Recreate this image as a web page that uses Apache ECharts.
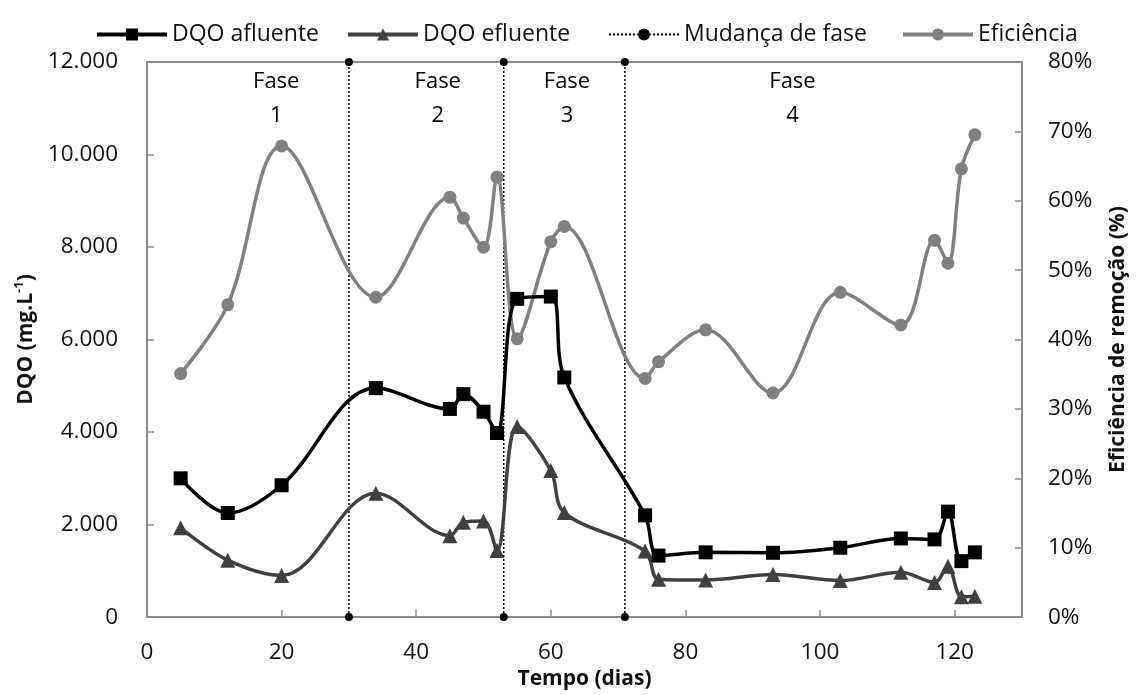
<!DOCTYPE html>
<html>
<head>
<meta charset="utf-8">
<script src="https://cdn.jsdelivr.net/npm/echarts@6/dist/echarts.min.js"></script>
<style>
html,body{margin:0;padding:0;background:#fff;overflow:hidden;}
#chart{width:1137px;height:695px;}
</style>
</head>
<body>
<div id="chart"></div>
<script>
// Data
const days = [5, 12, 20, 34, 45, 47, 50, 52, 55, 60, 62, 74, 76, 83, 93, 103, 112, 117, 119, 121, 123];
const dqoAfluente = [3000, 2250, 2850, 4950, 4500, 4820, 4440, 3980, 6880, 6930, 5180, 2200, 1330, 1400, 1390, 1500, 1700, 1680, 2280, 1210, 1400];
const dqoEfluente = [1930, 1230, 900, 2680, 1760, 2050, 2080, 1440, 4120, 3170, 2260, 1430, 820, 800, 920, 790, 970, 750, 1100, 440, 450];
const eficiencia = [35.1, 45.0, 67.9, 46.1, 60.5, 57.5, 53.3, 63.4, 40.1, 54.1, 56.3, 34.4, 36.8, 41.4, 32.3, 46.8, 42.1, 54.3, 51.0, 64.6, 69.5];
const phaseChangeDays = [30, 53, 71];
const phaseNames = ['1', '2', '3', '4'];
const phaseLabelDays = [19.2, 43.2, 62.4, 95.9];
const phaseLabelLevel = 11210;
const dqoRange = [0, 12000];
const legendNames = ['DQO afluente', 'DQO efluente', 'Mudança de fase', 'Eficiência'];

const FONT = 'Open Sans';
const TXT = '#111';
const chart = echarts.init(document.getElementById('chart'));

function pair(xs, ys) { return xs.map((x, i) => [x, ys[i]]); }
function fmtThousands(v) {
  return String(v).replace(/\B(?=(\d{3})+(?!\d))/g, '.');
}

const phaseSeries = phaseChangeDays.map(d => ({
  name: 'Mudança de fase',
  type: 'line',
  yAxisIndex: 0,
  data: dqoRange.map(v => [d, v]),
  symbol: 'circle',
  symbolSize: 8,
  itemStyle: { color: '#000' },
  lineStyle: { color: '#000', width: 1.5, type: [2, 2] },
  silent: true,
  z: 1
}));

const legendLefts = [90, 341, 603, 896];
const legends = legendNames.map((n, i) => ({
  top: 18,
  left: legendLefts[i],
  itemWidth: 70,
  itemHeight: 15,
  itemGap: 0,
  selectedMode: false,
  textStyle: { fontFamily: FONT, fontSize: 23, color: TXT },
  data: [i === 2 ? { name: n } : { name: n, lineStyle: { width: 4 } }]
}));

const option = {
  animation: false,
  backgroundColor: '#fff',
  textStyle: { fontFamily: FONT },
  legend: legends,
  grid: {
    left: 147, right: 110, top: 62, bottom: 68,
    show: true, borderColor: '#8a8a8a', borderWidth: 2, containLabel: false
  },
  xAxis: {
    type: 'value',
    min: 0, max: 130, interval: 20,
    name: 'Tempo (dias)',
    nameLocation: 'middle',
    nameGap: 46,
    nameTextStyle: { fontFamily: FONT, fontSize: 21, fontWeight: 'bold', color: TXT },
    axisLine: { show: true, lineStyle: { color: '#8a8a8a', width: 2 } },
    axisTick: { show: true, inside: true, length: 7, lineStyle: { color: '#8a8a8a', width: 1.5 } },
    axisLabel: { fontFamily: FONT, fontSize: 22.5, color: TXT, margin: 24,
      formatter: v => (v > 120 ? '' : String(v)) },
    splitLine: { show: false }
  },
  yAxis: [
    {
      type: 'value',
      min: 0, max: 12000, interval: 2000,
      name: '{b|DQO (mg.L}{s|-1}{b|)}',
      nameLocation: 'middle',
      nameRotate: 90,
      nameGap: 103,
      nameTextStyle: {
        rich: {
          b: { fontFamily: FONT, fontSize: 21, fontWeight: 'bold', color: TXT, lineHeight: 28 },
          s: { fontFamily: FONT, fontSize: 13, fontWeight: 'bold', color: TXT, verticalAlign: 'top', lineHeight: 28 }
        }
      },
      axisLine: { show: true, lineStyle: { color: '#8a8a8a', width: 2 } },
      axisTick: { show: true, inside: true, length: 7, lineStyle: { color: '#8a8a8a', width: 1.5 } },
      axisLabel: { fontFamily: FONT, fontSize: 22.5, color: TXT, margin: 29, formatter: fmtThousands },
      splitLine: { show: false }
    },
    {
      type: 'value',
      position: 'right',
      min: 0, max: 80, interval: 10,
      name: 'Eficiência de remoção (%)',
      nameLocation: 'middle',
      nameRotate: 90,
      nameGap: 86,
      nameTextStyle: { fontFamily: FONT, fontSize: 21, fontWeight: 'bold', color: TXT },
      axisLine: { show: true, lineStyle: { color: '#8a8a8a', width: 2 } },
      axisTick: { show: true, inside: true, length: 7, lineStyle: { color: '#8a8a8a', width: 1.5 } },
      axisLabel: { fontFamily: FONT, fontSize: 22.5, color: TXT, margin: 26, formatter: v => v + '%' },
      splitLine: { show: false }
    }
  ],
  series: [
    ...phaseSeries,
    {
      name: 'Eficiência',
      type: 'line',
      yAxisIndex: 1,
      data: pair(days, eficiencia),
      smooth: 0.35,
      symbol: 'circle',
      symbolSize: 13,
      itemStyle: { color: '#808080' },
      lineStyle: { color: '#808080', width: 3.5 },
      z: 3
    },
    {
      name: 'DQO efluente',
      type: 'line',
      yAxisIndex: 0,
      data: pair(days, dqoEfluente),
      smooth: 0.35,
      symbol: 'triangle',
      symbolSize: 15,
      itemStyle: { color: '#404040' },
      lineStyle: { color: '#404040', width: 3.5 },
      z: 4
    },
    {
      name: 'DQO afluente',
      type: 'line',
      yAxisIndex: 0,
      data: pair(days, dqoAfluente),
      smooth: 0.35,
      symbol: 'rect',
      symbolSize: 14,
      itemStyle: { color: '#000' },
      lineStyle: { color: '#000', width: 3.5 },
      z: 5
    }
  ]
};
chart.setOption(option);

// Phase labels placed through the chart's own scale
const labelGraphics = phaseLabelDays.map((d, i) => {
  const p = chart.convertToPixel({ xAxisIndex: 0, yAxisIndex: 0 }, [d, phaseLabelLevel]);
  return {
    type: 'text',
    x: p[0], y: p[1],
    silent: true,
    z: 10,
    style: {
      text: 'Fase\n' + phaseNames[i],
      fontFamily: FONT, fontSize: 22, fill: '#000',
      lineHeight: 34, align: 'center', verticalAlign: 'middle'
    }
  };
});
chart.setOption({ graphic: labelGraphics });
</script>
</body>
</html>
